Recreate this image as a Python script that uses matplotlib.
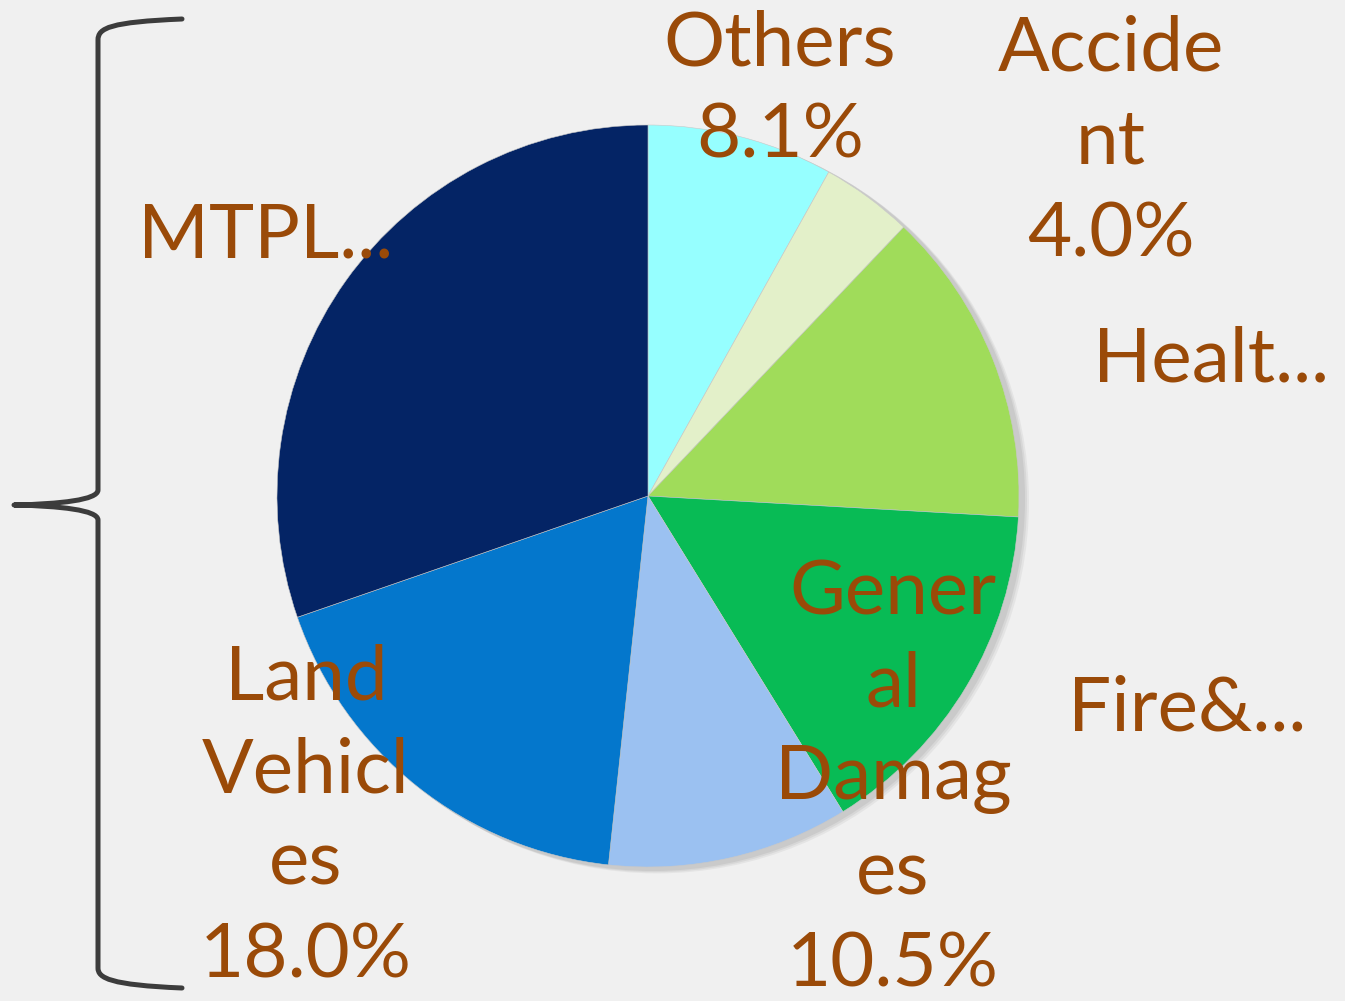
import matplotlib
matplotlib.use("Agg")
import matplotlib.pyplot as plt
from matplotlib.path import Path
from matplotlib.patches import PathPatch, Circle

# ---- data ----
categories = ["Others", "Accident", "Health", "Fire&...", "General Damages", "Land Vehicles", "MTPL"]
shares = [8.1, 4.0, 13.8, 15.3, 10.5, 18.0, 30.3]
slice_colors = ["#96FFFF", "#E3F0C9", "#A0DC5A", "#08BB55", "#9BC1F1", "#0477CC", "#042465"]
label_texts = ["Others\n8.1%", "Accide\nnt\n4.0%", "Healt...", "Fire&...",
               "Gener\nal\nDamag\nes\n10.5%", "Land\nVehicl\nes\n18.0%", "MTPL..."]

W, H = 1345, 1001
fig = plt.figure(figsize=(W / 100, H / 100), dpi=100, facecolor="#F0F0F0")
ax = fig.add_axes([0, 0, 1, 1])
ax.set_facecolor("#F0F0F0")

cx, cy, R = 648, H - 496, 371

# soft shadow
for off, a in [(9, 0.10), (7, 0.12), (5, 0.15)]:
    ax.add_patch(Circle((cx + off, cy - off * 0.6), R + 1, color="#808080", alpha=a, lw=0, zorder=1))

ax.pie(shares, colors=slice_colors, startangle=90, counterclock=False,
       center=(cx, cy), radius=R, frame=True,
       wedgeprops=dict(edgecolor="#C8C8C8", linewidth=0.4, zorder=2))

txt_color = "#9A4A08"
fs = 55
pos = [(780, 90), (1111, 142), (1211, 360), (1187, 709),
       (893, 779), (306, 817), (266, 236)]
for t, (x, y) in zip(label_texts, pos):
    ax.text(x, H - y, t, ha="center", va="center", fontsize=fs, color=txt_color,
            family=["Lato", "DejaVu Sans"], linespacing=1.42, zorder=5)

# curly bracket on the left
verts = [(182, 19), (110, 22), (98, 28), (98, 40),
         (98, 490),
         (98, 500), (60, 504), (14, 505),
         (60, 506), (98, 510), (98, 520),
         (98, 968),
         (98, 978), (110, 985), (182, 988)]
codes = [Path.MOVETO, Path.CURVE4, Path.CURVE4, Path.CURVE4,
         Path.LINETO,
         Path.CURVE4, Path.CURVE4, Path.CURVE4,
         Path.CURVE4, Path.CURVE4, Path.CURVE4,
         Path.LINETO,
         Path.CURVE4, Path.CURVE4, Path.CURVE4]
verts = [(x, H - y) for x, y in verts]
ax.add_patch(PathPatch(Path(verts, codes), fill=False, edgecolor="#3C3C3C",
                       lw=3.6, capstyle="round", joinstyle="round", zorder=4))

ax.set_xlim(0, W)
ax.set_ylim(0, H)
ax.set_aspect("equal")
ax.axis("off")
fig.savefig("out.png", dpi=100, facecolor=fig.get_facecolor())
